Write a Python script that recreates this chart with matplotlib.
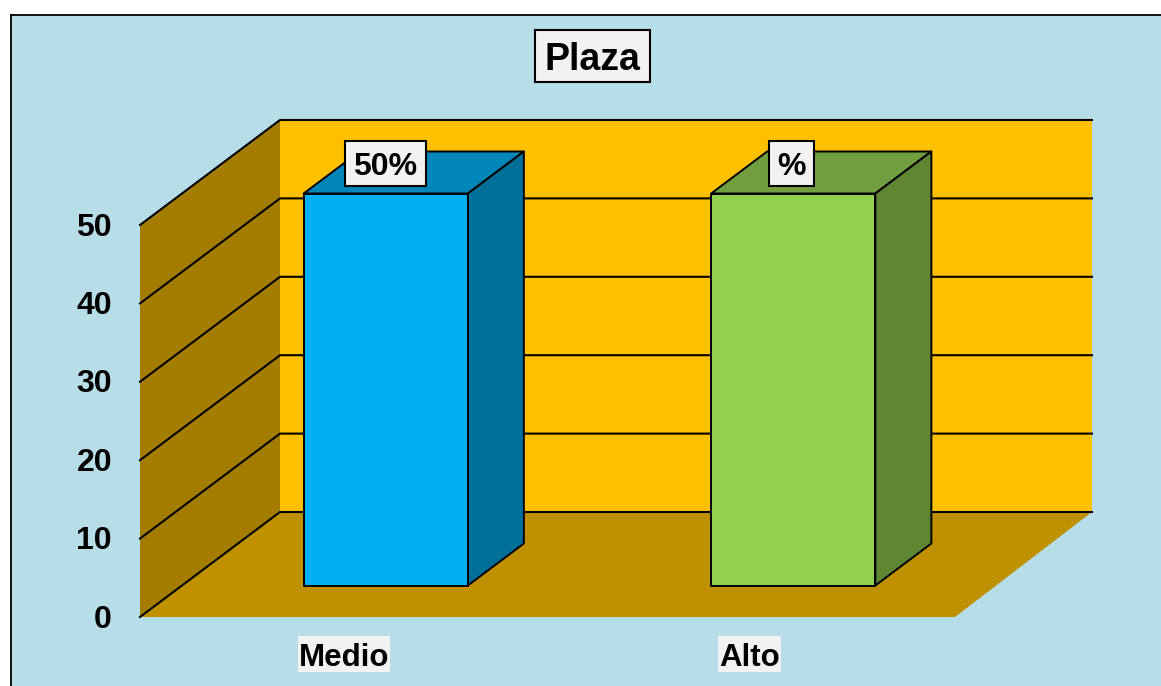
import matplotlib
matplotlib.use("Agg")
import matplotlib.pyplot as plt
from matplotlib.patches import Polygon, Rectangle

plt.rcParams['font.family'] = ['Liberation Sans', 'DejaVu Sans']

categorias = ['Medio', 'Alto']
valores = [50, 50]
etiquetas = ['50%', '%']
colores = [('#00B0F0', '#0086B8', '#006F9A'),
           ('#92D050', '#719E3E', '#5F8633')]
yticks = [0, 10, 20, 30, 40, 50]

W, H = 1161, 686
px_x = 407.5   # pixels per category
px_y = 7.84    # pixels per value unit
x0, y0 = 140, 617  # pixel of the origin
dx = 140 / px_x    # depth offset in data units
dy = 105 / px_y
ancho = 0.403
z1, z2 = 0.3, 0.7  # bar depth
recorte = 3 / px_x  # back wall stops a bit short of the floor's skew

fig = plt.figure(figsize=(W / 100, H / 100), dpi=100, facecolor='white')
ax = fig.add_axes([11 / W, 0, 1 - 11 / W, (H - 14.5) / H], facecolor='#B7DDE8')
ax.set_xlim((11 - x0) / px_x, (W - x0) / px_x)
ax.set_ylim((y0 - H) / px_y, (y0 - 14.5) / px_y)
ax.set_xticks([])
ax.set_yticks([])
for s in ['right', 'bottom']:
    ax.spines[s].set_visible(False)
for s in ['left', 'top']:
    ax.spines[s].set_linewidth(1.3)


def p(x, y, z=0):
    return (x + z * dx, y + z * dy)


def dato_x(px):
    return (px - x0) / px_x


def dato_y(py):
    return (y0 - py) / px_y


def cara(puntos, color, borde='none', zorder=1):
    ax.add_patch(Polygon(puntos, closed=True, facecolor=color, edgecolor=borde,
                         linewidth=1.4, joinstyle='round', zorder=zorder))


def caja(x1, x2, y1, y2, borde='black'):
    # box given in picture pixels
    ax.add_patch(Rectangle((dato_x(x1), dato_y(y2)), (x2 - x1) / px_x, (y2 - y1) / px_y,
                           facecolor='#F2F2F2', edgecolor=borde, linewidth=1.5,
                           zorder=5))


xn = len(categorias)
ymax = max(yticks)
xb_fin = xn - recorte

# walls and floor
cara([p(0, 0, 1), p(xb_fin, 0, 1), p(xb_fin, ymax, 1), p(0, ymax, 1)], '#FFC000')
cara([p(0, 0, 0), p(0, 0, 1), p(0, ymax, 1), p(0, ymax, 0)], '#A37C00')
cara([p(0, 0, 0), p(xn, 0, 0), p(xb_fin, 0, 1), p(0, 0, 1)], '#BF9000')

# grid lines
for t in yticks:
    a, b, c = p(0, t, 0), p(0, t, 1), p(xb_fin, t, 1)
    ax.plot([a[0], b[0], c[0]], [a[1], b[1], c[1]], color='black', lw=1.5,
            solid_joinstyle='miter', zorder=2)
    ax.text(dato_x(112), t - 1.35, str(t), ha='right', va='baseline',
            fontsize=23, fontweight='bold', color='black')

# bars
for i in range(xn):
    xa = i + 0.5 - ancho / 2
    xb = i + 0.5 + ancho / 2
    v = valores[i]
    c1, c2, c3 = colores[i]
    cara([p(xa, v, z1), p(xb, v, z1), p(xb, v, z2), p(xa, v, z2)], c2, 'black', 3)
    cara([p(xb, 0, z1), p(xb, 0, z2), p(xb, v, z2), p(xb, v, z1)], c3, 'black', 3)
    cara([p(xa, 0, z1), p(xb, 0, z1), p(xb, v, z1), p(xa, v, z1)], c1, 'black', 4)

# value labels
caja(345, 426, 141, 186)
ax.text(dato_x(385.5), dato_y(175), etiquetas[0], ha='center', va='baseline',
        fontsize=23, fontweight='bold', zorder=6)
caja(769, 814, 141, 186)
ax.text(dato_x(791.5), dato_y(175), etiquetas[1], ha='center', va='baseline',
        fontsize=23, fontweight='bold', zorder=6)

# category labels
caja(298, 390, 636, 672, borde='none')
ax.text(dato_x(344), dato_y(665.5), categorias[0], ha='center', va='baseline',
        fontsize=22.5, fontweight='bold', zorder=6)
caja(718, 781, 636, 672, borde='none')
ax.text(dato_x(749.5), dato_y(665.5), categorias[1], ha='center', va='baseline',
        fontsize=22.5, fontweight='bold', zorder=6)

# title
caja(535, 649.5, 30, 82)
ax.text(dato_x(592), dato_y(69.5), 'Plaza', ha='center', va='baseline',
        fontsize=27, fontweight='bold', zorder=6)

fig.savefig('out.png', dpi=100, facecolor='white')
